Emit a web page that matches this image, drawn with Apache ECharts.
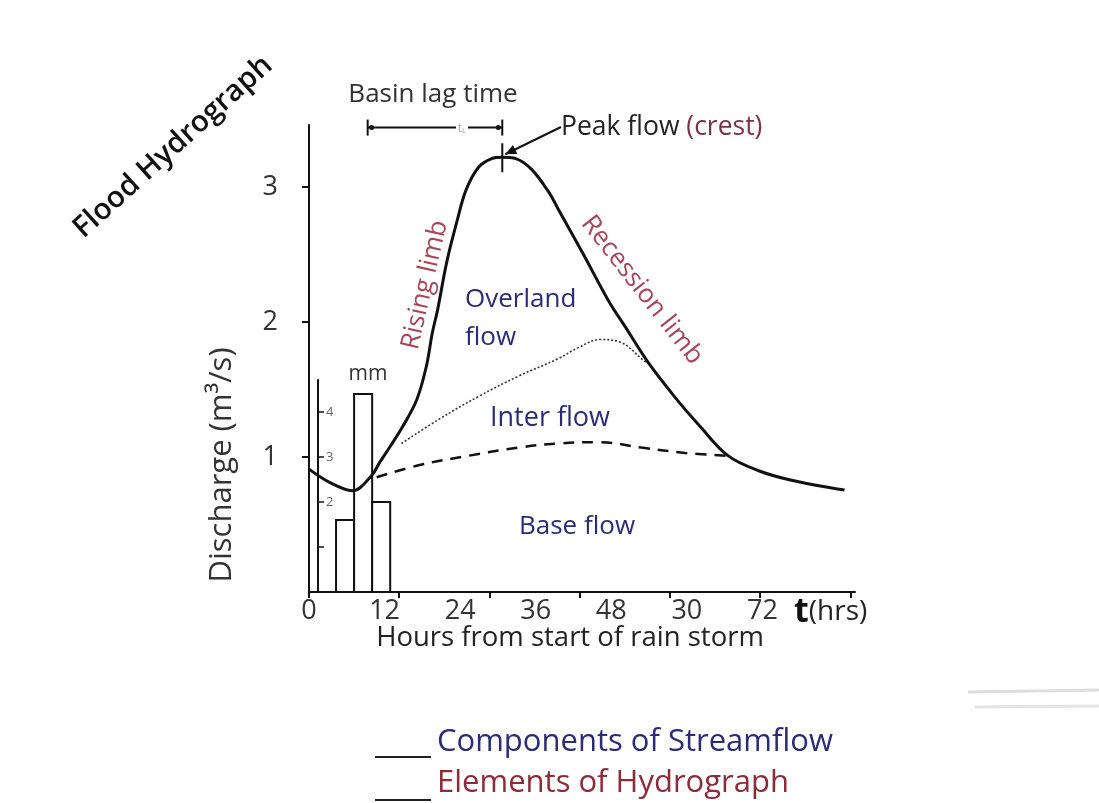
<!DOCTYPE html>
<html>
<head>
<meta charset="utf-8">
<script src="https://cdn.jsdelivr.net/npm/echarts@6/dist/echarts.min.js"></script>
<style>html,body{margin:0;padding:0;background:#fff}#c{width:1099px;height:803px}</style>
</head>
<body>
<div id="c"></div>
<script>
// ---- data ----
const hourTicks = [0, 12, 24, 36, 48, 60, 72];
const hourLabels = ['0', '12', '24', '36', '48', '30', '72'];
const dischargeTicks = [1, 2, 3];
const rainTicks = [1, 2, 3, 4];
const rainLabelTicks = [2, 3, 4];

// total runoff hydrograph (hrs, m3/s)
const mainHours = [0, 2.8, 5.8, 8.3, 9.4, 10.7, 12.4, 14.3, 15.6, 16.4, 17.1, 18.3, 19.6, 20.9, 22.6, 24.3, 25.7, 27.5, 29.6, 31.9, 33.2, 36.5, 39.8, 42.1, 45.1, 48.7, 52.1, 55.7, 59.7, 64.0, 71.2];
const mainQ     = [0.91, 0.81, 0.75, 0.86, 0.96, 1.07, 1.22, 1.42, 1.67, 1.92, 2.09, 2.44, 2.73, 2.98, 3.15, 3.21, 3.22, 3.21, 3.13, 2.96, 2.83, 2.50, 2.16, 1.96, 1.70, 1.44, 1.22, 1.01, 0.90, 0.83, 0.755];

// base flow (dashed)
const baseHours = [9.0, 14.7, 21.3, 27.9, 33.2, 38.5, 44.2, 50.0, 55.4];
const baseQ     = [0.85, 0.94, 1.01, 1.07, 1.10, 1.11, 1.07, 1.03, 1.01];

// inter flow (dotted)
const interHours = [12.3, 17.3, 22.6, 27.9, 33.2, 35.8, 38.7, 41.4, 44.4, 45.4];
const interQ     = [1.10, 1.28, 1.45, 1.60, 1.73, 1.81, 1.87, 1.85, 1.72, 1.68];

// rainfall (mm) per interval
const rainStart = [3.6, 6.0, 8.4];
const rainEnd   = [6.0, 8.4, 10.8];
const rainMm    = [1.6, 4.4, 2.0];

const lagStartHour = 7.8;
const lagLevel = 3.44;

const zip = (a, b) => a.map((v, i) => [v, b[i]]);

const chart = echarts.init(document.getElementById('c'), null, {renderer: 'canvas'});
const FONT = '"Open Sans", Lato, sans-serif';
const AX = '#333';

const option = {
  backgroundColor: '#fff',
  animation: false,
  grid: [
    {left: 309, right: 244, top: 125, bottom: 211},
    {left: 318, right: 244, top: 380, bottom: 211}
  ],
  xAxis: [
    {type: 'value', gridIndex: 0, min: 0, max: 72.6, interval: 12,
     axisLine: {lineStyle: {color: '#111', width: 2}},
     axisTick: {show: true, length: 6, lineStyle: {color: '#111', width: 2}, customValues: hourTicks},
     axisLabel: {show: false}, splitLine: {show: false}},
    {type: 'value', gridIndex: 0, min: 0, max: 86.7, interval: 12, position: 'bottom',
     axisLine: {show: false}, axisTick: {show: false}, splitLine: {show: false},
     axisLabel: {show: true, customValues: hourTicks, margin: 6, color: AX, fontSize: 27, fontFamily: FONT,
       formatter: v => { const i = hourTicks.indexOf(v); return i >= 0 ? hourLabels[i] : ''; }}},
    {type: 'value', gridIndex: 1, min: 1.2, max: 72.6, show: false}
  ],
  yAxis: [
    {type: 'value', gridIndex: 0, min: 0, max: 3.459, interval: 1,
     axisLine: {show: true, lineStyle: {color: '#111', width: 2}},
     axisTick: {show: true, length: 7, lineStyle: {color: '#111', width: 2}, customValues: dischargeTicks},
     axisLabel: {customValues: dischargeTicks, margin: 31, color: AX, fontSize: 27, fontFamily: FONT},
     splitLine: {show: false}},
    {type: 'value', gridIndex: 1, min: 0, max: 4.71, interval: 1,
     axisLine: {show: true, lineStyle: {color: '#111', width: 2}},
     axisTick: {show: true, inside: true, length: 6, lineStyle: {color: '#111', width: 1.5}, customValues: rainTicks},
     axisLabel: {inside: true, customValues: rainLabelTicks, margin: 8, color: '#666', fontSize: 13, fontFamily: FONT},
     splitLine: {show: false}}
  ],
  series: [
    {type: 'custom', name: 'Rainfall', xAxisIndex: 2, yAxisIndex: 1, z: 1,
     data: rainStart.map((s, i) => [s, rainEnd[i], rainMm[i]]),
     renderItem: (params, api) => {
       const p0 = api.coord([api.value(0), 0]);
       const p1 = api.coord([api.value(1), api.value(2)]);
       return {type: 'rect', shape: {x: p0[0], y: p1[1], width: p1[0] - p0[0], height: p0[1] - p1[1]},
               style: {fill: '#fff', stroke: '#111', lineWidth: 2}};
     },
     encode: {x: [0, 1], y: 2}},
    {type: 'line', name: 'Base flow', xAxisIndex: 0, yAxisIndex: 0, z: 3, data: zip(baseHours, baseQ),
     smooth: 0.4, showSymbol: false, lineStyle: {color: '#111', width: 2.5, type: [11, 8]}},
    {type: 'line', name: 'Inter flow', xAxisIndex: 0, yAxisIndex: 0, z: 3, data: zip(interHours, interQ),
     smooth: 0.4, showSymbol: false, lineStyle: {color: '#333', width: 1.6, type: [2, 2]}},
    {type: 'line', name: 'Total runoff', xAxisIndex: 0, yAxisIndex: 0, z: 4, data: zip(mainHours, mainQ),
     smooth: 0.35, showSymbol: false, lineStyle: {color: '#111', width: 3}}
  ]
};
chart.setOption(option);

// ---- annotations ----
const toPx = p => chart.convertToPixel({xAxisIndex: 0, yAxisIndex: 0}, p);
let pk = 0;
mainQ.forEach((q, i) => { if (q > mainQ[pk]) pk = i; });
const peak = toPx([mainHours[pk], mainQ[pk]]);
const lagA = toPx([lagStartHour, lagLevel]);
const lagB = toPx([mainHours[pk], lagLevel]);

const NAVY = '#2b2b78';
const RED = '#a6465a';
const DRED = '#8e2b38';

function txt(t, x, y, size, color, opts) {
  opts = opts || {};
  return {type: 'text', x: x, y: y, rotation: opts.rot || 0, z: 10,
    style: {text: t, font: (opts.weight || 'normal') + ' ' + size + 'px ' + FONT, fill: color,
      align: opts.align || 'center', verticalAlign: 'middle'}};
}
const arrowTail = [561, 127];
const tip = [peak[0] + 3, peak[1] - 3];
const ang = Math.atan2(tip[1] - arrowTail[1], tip[0] - arrowTail[0]);
const ah = 11, aw = 5;
const head = [
  tip,
  [tip[0] - ah * Math.cos(ang) + aw * Math.sin(ang), tip[1] - ah * Math.sin(ang) - aw * Math.cos(ang)],
  [tip[0] - ah * Math.cos(ang) - aw * Math.sin(ang), tip[1] - ah * Math.sin(ang) + aw * Math.cos(ang)]
];

chart.setOption({graphic: [
  txt('Flood Hydrograph', 173, 147, 29.5, '#111', {rot: Math.PI * 42 / 180, weight: '600'}),
  txt('Basin lag time', 433, 95, 26, '#333'),
  // lag bar
  {type: 'line', z: 10, shape: {x1: lagA[0], y1: lagA[1], x2: lagB[0], y2: lagB[1]}, style: {stroke: '#111', lineWidth: 2}},
  {type: 'line', z: 10, shape: {x1: lagA[0], y1: lagA[1] - 8, x2: lagA[0], y2: lagA[1] + 8}, style: {stroke: '#111', lineWidth: 2}},
  {type: 'line', z: 10, shape: {x1: lagB[0], y1: lagB[1] - 8, x2: lagB[0], y2: lagB[1] + 8}, style: {stroke: '#111', lineWidth: 2}},
  {type: 'circle', z: 10, shape: {cx: lagA[0] + 4, cy: lagA[1], r: 2.5}, style: {fill: '#111'}},
  {type: 'circle', z: 10, shape: {cx: lagB[0] - 4, cy: lagB[1], r: 2.5}, style: {fill: '#111'}},
  {type: 'rect', z: 11, shape: {x: 456, y: lagA[1] - 6, width: 12, height: 12}, style: {fill: '#fff'}},
  {type: 'text', z: 12, x: 462, y: lagA[1] + 1, style: {text: '{a|t}{b|L}', align: 'center', verticalAlign: 'middle',
    rich: {a: {font: '12px ' + FONT, fill: '#aaa'}, b: {font: '8px ' + FONT, fill: '#aaa', verticalAlign: 'bottom'}}}},
  // peak marker
  {type: 'line', z: 10, shape: {x1: peak[0], y1: peak[1] - 14, x2: peak[0], y2: peak[1] + 15}, style: {stroke: '#111', lineWidth: 2}},
  {type: 'line', z: 10, shape: {x1: arrowTail[0], y1: arrowTail[1], x2: tip[0], y2: tip[1]}, style: {stroke: '#111', lineWidth: 2}},
  {type: 'polygon', z: 10, shape: {points: head}, style: {fill: '#111'}},
  {type: 'text', z: 10, x: 561, y: 127, style: {text: '{a|Peak flow }{b|(crest)}', align: 'left', verticalAlign: 'middle',
    rich: {a: {font: '26.5px ' + FONT, fill: '#222'}, b: {font: '26.5px ' + FONT, fill: '#7a3345'}}}},
  // limbs
  txt('Rising limb', 425, 285, 26, RED, {rot: Math.PI * 77 / 180}),
  txt('Recession limb', 642, 290, 26, RED, {rot: -Math.PI * 52 / 180}),
  // components
  txt('Overland', 465, 300, 26, NAVY, {align: 'left'}),
  txt('flow', 465, 338, 26, NAVY, {align: 'left'}),
  txt('Inter flow', 550, 418, 27, NAVY),
  txt('Base flow', 577, 527, 26, NAVY),
  txt('mm', 368, 374, 21, '#333'),
  // axis titles
  txt('Discharge (m\u00b3/s)', 222, 465, 31, '#333', {rot: Math.PI / 2}),
  txt('Hours from start of rain storm', 570, 638, 27.5, '#222'),
  {type: 'text', z: 10, x: 794, y: 612, style: {text: '{t|t}{h|(hrs)}', align: 'left', verticalAlign: 'middle',
    rich: {t: {font: 'bold 34px ' + FONT, fill: '#111'}, h: {font: '28px ' + FONT, fill: '#222'}}}},
  // legend
  {type: 'line', z: 10, shape: {x1: 375, y1: 757, x2: 431, y2: 757}, style: {stroke: '#222', lineWidth: 2}},
  txt('Components of Streamflow', 437, 742, 31, NAVY, {align: 'left'}),
  {type: 'line', z: 10, shape: {x1: 375, y1: 800, x2: 431, y2: 800}, style: {stroke: '#222', lineWidth: 2}},
  txt('Elements of Hydrograph', 437, 783, 31, DRED, {align: 'left'}),
  // faint smudges on the right
  {type: 'line', z: 0, shape: {x1: 968, y1: 692, x2: 1099, y2: 690}, style: {stroke: '#ddd', lineWidth: 3}},
  {type: 'line', z: 0, shape: {x1: 975, y1: 707, x2: 1099, y2: 706}, style: {stroke: '#e4e4e4', lineWidth: 3}}
]});
</script>
</body>
</html>
